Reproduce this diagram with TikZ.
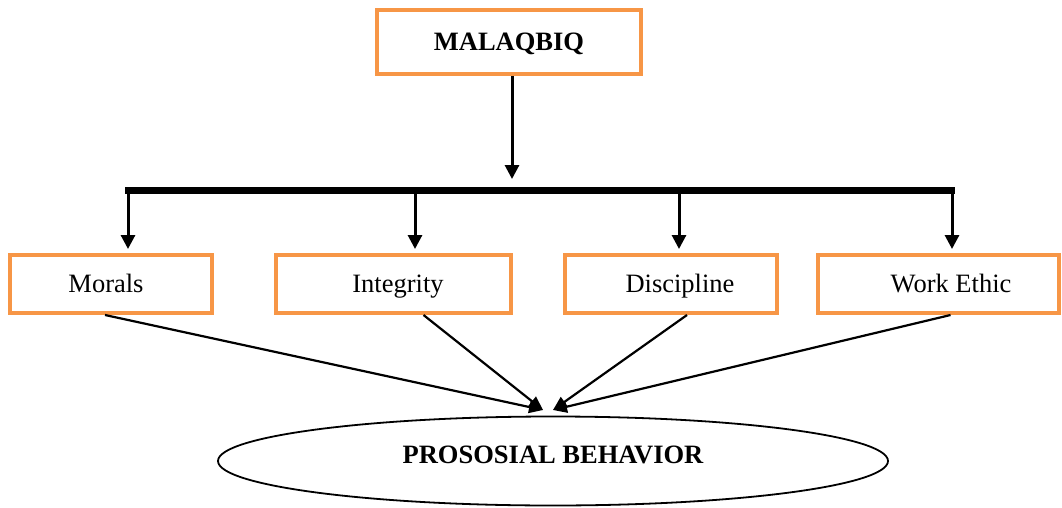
\documentclass[tikz,border=0pt]{standalone}
\usepackage{fontspec}
\setmainfont{Liberation Serif}
\usetikzlibrary{arrows.meta,shapes.geometric,calc}
\definecolor{boxorange}{HTML}{F79646}
\begin{document}
\begin{tikzpicture}[x=1pt,y=-1pt,
  obox/.style={draw=boxorange,line width=4pt,fill=white,rectangle,inner sep=0pt,text height=17.5pt,text depth=0pt,font=\fontsize{26.5}{30}\selectfont},
  droparrow/.style={line width=3pt,-{Triangle[length=14pt,width=14pt]}},
  inarrow/.style={line width=2.2pt,-{Triangle[length=14pt,width=12pt]}},
  bar/.style={line width=7pt}]
\useasboundingbox (0,0) rectangle (1062,508);
% top box
\node[obox,minimum width=264pt,minimum height=64pt,font=\fontsize{26.5}{30}\selectfont\bfseries] (top) at (509,42) {MALAQBIQ};
% hub and bar
\coordinate (hub) at (512,179);
\coordinate (barL) at (125,190);
\coordinate (barR) at (955,190);
\draw[droparrow] (top.south -| hub) -- (hub);
\draw[bar] (barL) -- (barR);
% boxes
\node[obox,minimum width=202pt,minimum height=58pt] (morals) at (111,284) {\hspace*{-10pt}Morals};
\node[obox,minimum width=235pt,minimum height=58pt] (integ) at (393.5,284) {\hspace*{9pt}Integrity};
\node[obox,minimum width=212pt,minimum height=58pt] (disc) at (671,284) {\hspace*{18pt}Discipline};
\node[obox,minimum width=241pt,minimum height=58pt] (work) at (938.5,284) {\hspace*{25pt}Work Ethic};
% drops
\coordinate (d1) at (128,190);
\coordinate (d2) at (415,190);
\coordinate (d3) at (679,190);
\coordinate (d4) at (952,190);
\draw[droparrow] (d1) -- (d1 |- 0,249);
\draw[droparrow] (d2) -- (d2 |- 0,249);
\draw[droparrow] (d3) -- (d3 |- 0,249);
\draw[droparrow] (d4) -- (d4 |- 0,249);
% ellipse
\node[ellipse,draw,line width=1.8pt,minimum width=670pt,minimum height=89pt,inner sep=0pt] (pb) at (553,461) {};
\node[font=\fontsize{26.5}{30}\selectfont\bfseries] (pbt) at (553,455) {PROSOSIAL BEHAVIOR};
% arrows into ellipse
\coordinate (tipL) at (543,410);
\coordinate (tipR) at (553,410);
\draw[inarrow] ([xshift=-6pt]morals.south) -- (tipL);
\draw[inarrow] ([xshift=30pt]integ.south) -- (tipL);
\draw[inarrow] ([xshift=16pt]disc.south) -- (tipR);
\draw[inarrow] ([xshift=12pt]work.south) -- (tipR);
\end{tikzpicture}
\end{document}
